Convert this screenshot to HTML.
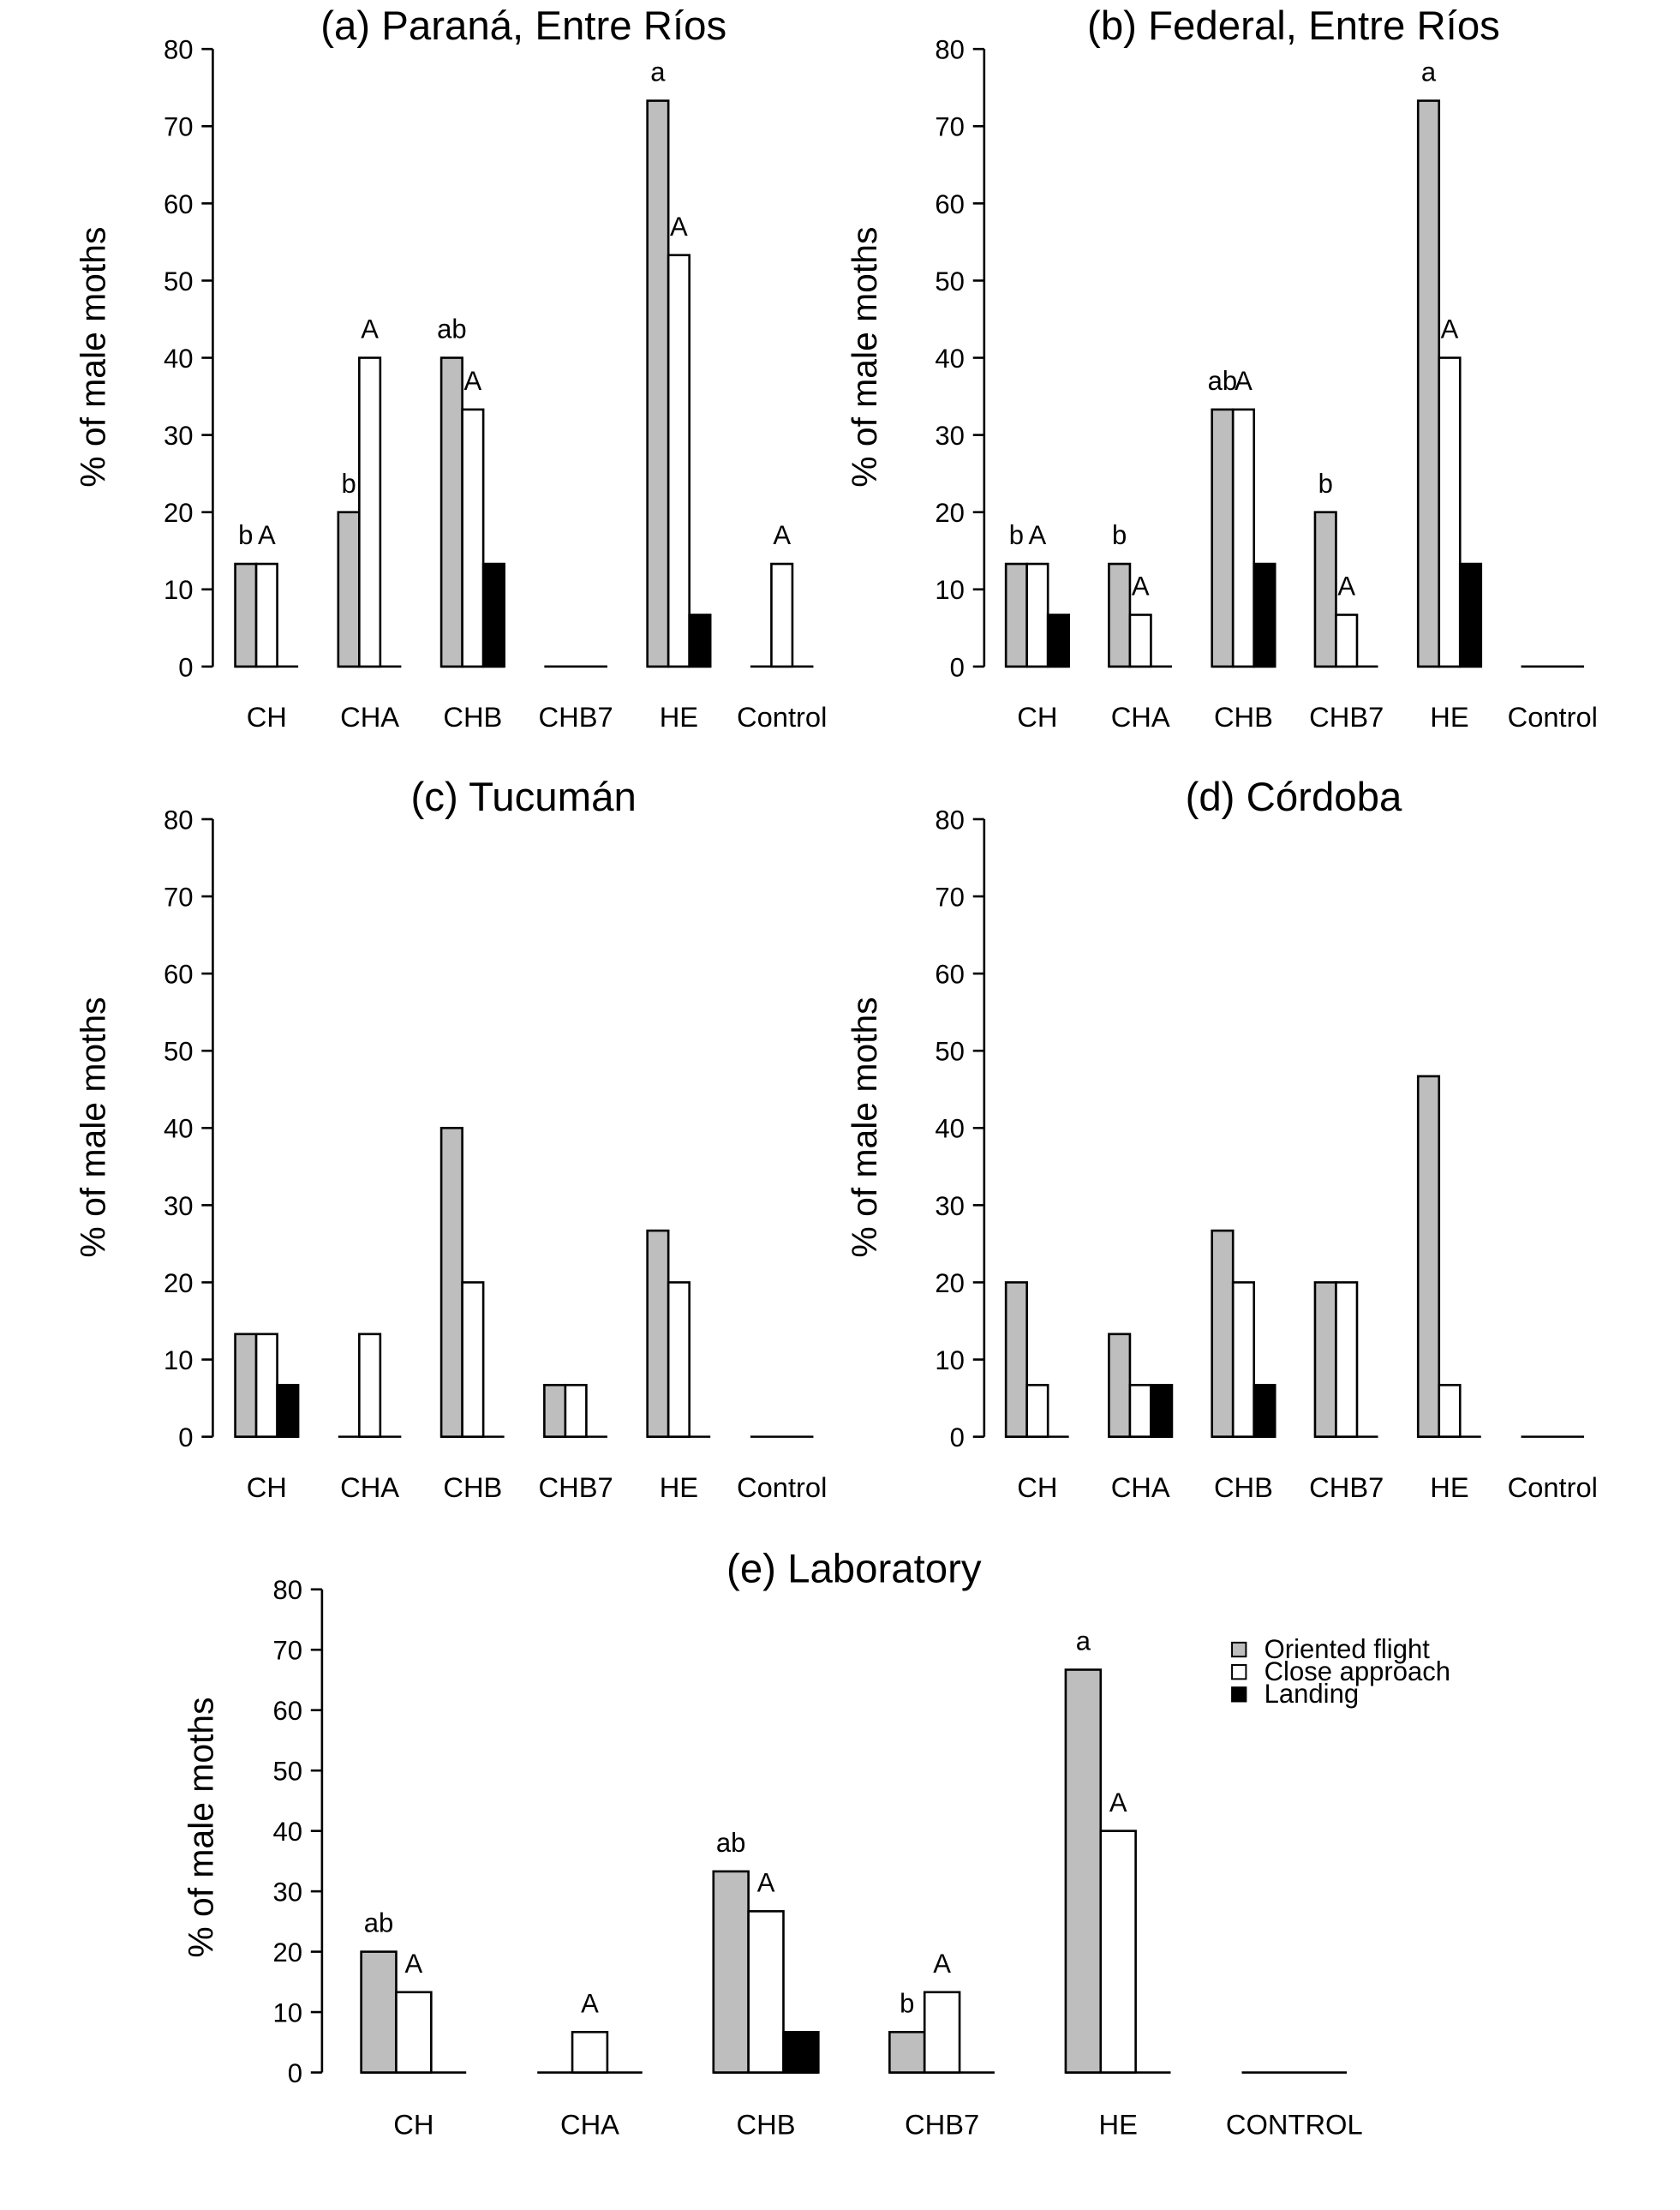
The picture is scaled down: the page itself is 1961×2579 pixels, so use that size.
<!DOCTYPE html>
<html><head><meta charset="utf-8"><style>
html,body{margin:0;padding:0;background:#fff}
svg{display:block}
text{font-family:"Liberation Sans",Arial,sans-serif;fill:#000}
</style></head><body>
<svg id="chart" xmlns="http://www.w3.org/2000/svg" width="1961" height="2579" viewBox="0 0 1200 1578.2"></svg>
<script>
const seriesNames = ["Oriented flight","Close approach","Landing"];
const catsA = ["CH","CHA","CHB","CHB7","HE","Control"];
const catsE = ["CH","CHA","CHB","CHB7","HE","CONTROL"];
const yTicks = [0,10,20,30,40,50,60,70,80];
const orientedA = [13.3,20,40,0,73.3,0];
const approachA = [13.3,40,33.3,0,53.3,13.3];
const landingA = [0,0,13.3,0,6.7,0];
const lowerA = ["b","b","ab","","a",""];
const upperA = ["A","A","A","","A","A"];
const orientedB = [13.3,13.3,33.3,20,73.3,0];
const approachB = [13.3,6.7,33.3,6.7,40,0];
const landingB = [6.7,0,13.3,0,13.3,0];
const lowerB = ["b","b","ab","b","a",""];
const upperB = ["A","A","A","A","A",""];
const orientedC = [13.3,0,40,6.7,26.7,0];
const approachC = [13.3,13.3,20,6.7,20,0];
const landingC = [6.7,0,0,0,0,0];
const orientedD = [20,13.3,26.7,20,46.7,0];
const approachD = [6.7,6.7,20,20,6.7,0];
const landingD = [0,6.7,6.7,0,0,0];
const orientedE = [20,0,33.3,6.7,66.7,0];
const approachE = [13.3,6.7,26.7,13.3,40,0];
const landingE = [0,0,6.7,0,0,0];
const lowerE = ["ab","","ab","b","a",""];
const upperE = ["A","A","A","A","A",""];

const NS="http://www.w3.org/2000/svg";
const svg=document.getElementById('chart');
function mk(tag,attrs,parent){const e=document.createElementNS(NS,tag);for(const k in attrs)e.setAttribute(k,attrs[k]);(parent||svg).appendChild(e);return e;}
function txt(s,x,y,size,anchor,parent,extra){const t=mk('text',Object.assign({x:x,y:y,'font-size':size,'text-anchor':anchor||'middle'},extra||{}),parent);t.textContent=s;return t;}

function panel(cfg){
  const g=mk('g',{});
  
  
  const y=v=>cfg.y0-(v/80)*(cfg.y0-cfg.y80);
  const cx=i=>cfg.c0+i*cfg.step;
  const bw=cfg.bw;
  const t=txt(cfg.title,cfg.tx,cfg.ty,cfg.tsize,'middle',g);
  
  
  const ax=mk('line',{x1:cfg.ax,x2:cfg.ax,y1:y(0),y2:y(80),stroke:'#000','stroke-width':1.6},g);
  
  
  yTicks.forEach(v=>{
    mk('line',{x1:cfg.ax-8,x2:cfg.ax,y1:y(v),y2:y(v),stroke:'#000','stroke-width':1.6},g);
    const l=txt(String(v),cfg.ax-14,y(v)+7,19,'end',g);
    
    
  });
  const yl=txt('% of male moths',0,0,25,'middle',g,{transform:`translate(${cfg.ylx},${cfg.yly}) rotate(-90)`});
  
  
  const series=[cfg.o,cfg.a,cfg.l];
  const fills=['#bebebe','#ffffff','#000000'];
  cfg.cats.forEach((c,i)=>{
    const left=cx(i)-1.5*bw;
    mk('line',{x1:left,x2:left+3*bw,y1:y(0),y2:y(0),stroke:'#000','stroke-width':1.6},g);
    series.forEach((arr,s)=>{
      const v=arr[i];
      if(v>0){
        const r=mk('rect',{x:left+s*bw,y:y(v),width:bw,height:y(0)-y(v),fill:fills[s],stroke:'#000','stroke-width':1.6},g);
        
        
      }
    });
    const xl=txt(c,cx(i),cfg.xly,20,'middle',g);
    
    
    if(cfg.lo&&cfg.lo[i]){
      const lt=txt(cfg.lo[i],left+bw/2,y(cfg.o[i])-14,19,'middle',g);
      
      
    }
    if(cfg.up&&cfg.up[i]){
      const ut=txt(cfg.up[i],left+1.5*bw,y(cfg.a[i])-14,19,'middle',g);
      
      
    }
  });
}
panel({name:'panel-a',title:'(a) Paraná, Entre Ríos',tx:374,ty:28,tsize:29,ax:152,y0:476,y80:35,c0:190.5,step:73.6,bw:15,cats:catsA,o:orientedA,a:approachA,l:landingA,lo:lowerA,up:upperA,xly:519,ylx:75,yly:255});
panel({name:'panel-b',title:'(b) Federal, Entre Ríos',tx:924,ty:28,tsize:29,ax:703,y0:476,y80:35,c0:741,step:73.6,bw:15,cats:catsA,o:orientedB,a:approachB,l:landingB,lo:lowerB,up:upperB,xly:519,ylx:626,yly:255});
panel({name:'panel-c',title:'(c) Tucumán',tx:374,ty:579,tsize:29,ax:152,y0:1026,y80:585,c0:190.5,step:73.6,bw:15,cats:catsA,o:orientedC,a:approachC,l:landingC,xly:1069,ylx:75,yly:805});
panel({name:'panel-d',title:'(d) Córdoba',tx:924,ty:579,tsize:29,ax:703,y0:1026,y80:585,c0:741,step:73.6,bw:15,cats:catsA,o:orientedD,a:approachD,l:landingD,xly:1069,ylx:626,yly:805});
panel({name:'panel-e',title:'(e) Laboratory',tx:610,ty:1130,tsize:29,ax:230,y0:1480,y80:1135,c0:295.5,step:125.8,bw:25,cats:catsE,o:orientedE,a:approachE,l:landingE,lo:lowerE,up:upperE,xly:1524,ylx:152,yly:1305});
const leg=mk('g',{});


const lf=['#bebebe','#ffffff','#000000'];
seriesNames.forEach((n,i)=>{
  const yy=1178+i*16;
  const r=mk('rect',{x:880,y:yy-5,width:10,height:10,fill:lf[i],stroke:'#000','stroke-width':1.2},leg);
  
  
  const t=txt(n,903,yy+6,19,'start',leg);
  
  
});
</script>
</body></html>
